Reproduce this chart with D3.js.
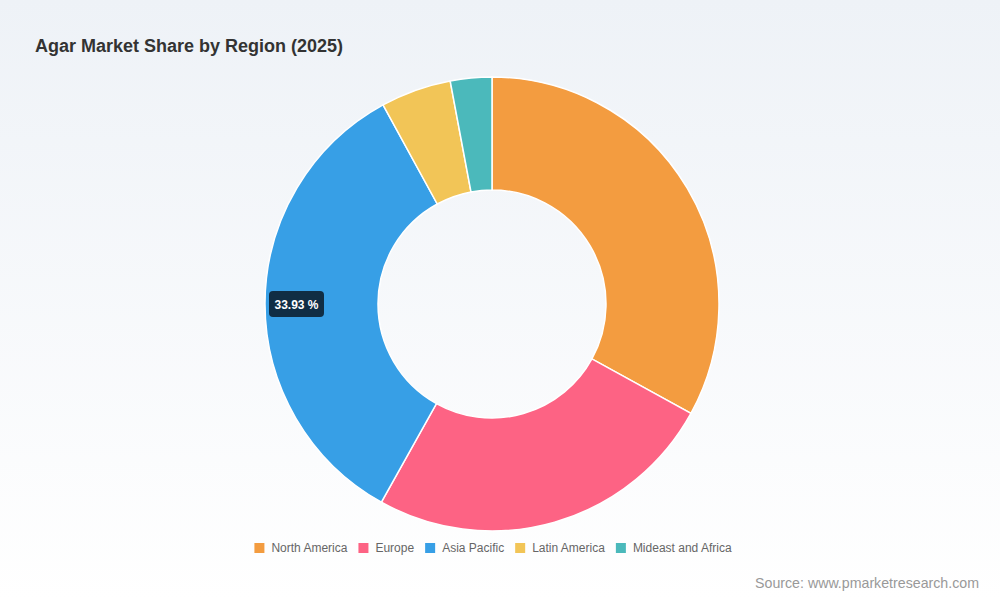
<!DOCTYPE html>
<html><head><meta charset="utf-8">
<script src="https://cdn.jsdelivr.net/npm/d3@7"></script>
<style>html,body{margin:0;padding:0;}body{width:1000px;height:600px;overflow:hidden;}</style>
</head><body>
<svg id="c" width="1000" height="600"></svg>
<script>
const regions = ["North America", "Europe", "Asia Pacific", "Latin America", "Mideast and Africa"];
const shares = [33.0, 25.1, 33.93, 5.02, 2.95];
const colors = ["#f39c40", "#fd6384", "#379fe6", "#f2c557", "#4bb9bb"];
const highlightLabel = "33.93 %";

const svg = d3.select("#c");
const defs = svg.append("defs");
const grad = defs.append("linearGradient").attr("id","bg").attr("x1",0).attr("y1",0).attr("x2",0).attr("y2",1);
grad.append("stop").attr("offset","0%").attr("stop-color","#eef2f7");
grad.append("stop").attr("offset","100%").attr("stop-color","#ffffff");
svg.append("rect").attr("width",1000).attr("height",600).attr("fill","url(#bg)");

svg.append("text").attr("x",35).attr("y",52).text("Agar Market Share by Region (2025)")
  .attr("font-family","'Liberation Sans', Arial, sans-serif").attr("font-weight","bold")
  .attr("font-size",18).attr("fill","#333");

const cx = 492, cy = 304, rOut = 227, rIn = 114;
const pie = d3.pie().sort(null).value(d => d.v);
const data = regions.map((r,i) => ({r, v: shares[i], c: colors[i]}));
const arcs = pie(data);
const arc = d3.arc().innerRadius(rIn).outerRadius(rOut);
const g = svg.append("g").attr("transform",`translate(${cx},${cy})`);
g.selectAll("path").data(arcs).join("path")
  .attr("d", arc).attr("fill", d => d.data.c)
  .attr("stroke","#fff").attr("stroke-width",1.5);

// tooltip label for Asia Pacific
const tip = svg.append("g").attr("transform","translate(296,304)");
tip.append("rect").attr("x",-27).attr("y",-13).attr("width",55).attr("height",26).attr("rx",4)
  .attr("fill","#102d44");
tip.append("text").attr("x",0.5).attr("y",4.5).attr("text-anchor","middle")
  .attr("font-family","'Liberation Sans', Arial, sans-serif").attr("font-weight","bold")
  .attr("font-size",12).attr("fill","#fff").text(highlightLabel);

// legend
const lg = svg.append("g");
const items = lg.selectAll("g").data(data).join("g");
items.append("rect").attr("width",10).attr("height",10).attr("y",-9).attr("fill", d => d.c);
items.append("text").attr("x",17).attr("y",0).text(d => d.r)
  .attr("font-family","'Liberation Sans', Arial, sans-serif").attr("font-size",12).attr("fill","#666");
let x = 0;
items.each(function(){
  const w = d3.select(this).select("text").node().getComputedTextLength();
  d3.select(this).attr("transform",`translate(${x},0)`);
  x += 17 + w + 11;
});
const total = x - 11;
lg.attr("transform",`translate(${493 - total/2},552)`);

svg.append("text").attr("x",979).attr("y",588).attr("text-anchor","end")
  .attr("font-family","'Liberation Sans', Arial, sans-serif").attr("font-size",14.2).attr("fill","#999")
  .text("Source: www.pmarketresearch.com");
</script>
</body></html>
